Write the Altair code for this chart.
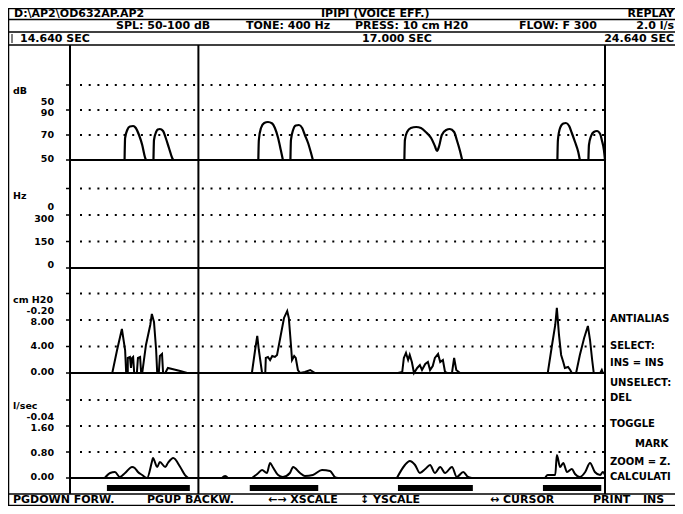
import altair as alt
import pandas as pd

# ---------------- data ----------------
t_start, t_end = 14.64, 24.64
cursor_time = 17.04

# SPL (dB) bursts
spl_times = [
    [15.66, 15.67, 15.71, 15.76, 15.82, 15.87, 15.93, 15.99, 16.04, 16.06],
    [16.20, 16.21, 16.25, 16.28, 16.32, 16.38, 16.43, 16.49, 16.55, 16.57],
    [18.16, 18.17, 18.21, 18.27, 18.34, 18.42, 18.47, 18.53, 18.58, 18.62],
    [18.76, 18.77, 18.81, 18.86, 18.92, 18.98, 19.03, 19.09, 19.14, 19.18],
    [20.89, 20.90, 20.94, 21.01, 21.11, 21.20, 21.29, 21.39, 21.46, 21.50,
     21.54, 21.59, 21.67, 21.74, 21.82, 21.87, 21.93, 21.97],
    [23.75, 23.76, 23.80, 23.86, 23.91, 23.97, 24.02, 24.08, 24.14, 24.17],
    [24.33, 24.34, 24.38, 24.43, 24.49, 24.55, 24.58, 24.62, 24.64],
]
spl_db = [
    [50, 67.6, 74, 76.8, 77.2, 75.6, 70, 62, 52.4, 50],
    [50, 66, 72.4, 74.4, 74.8, 73.2, 67.6, 59.6, 51.6, 50],
    [50, 66, 75.6, 79.6, 80.4, 79.2, 75.6, 67.6, 58, 50],
    [50, 66, 74, 77.6, 78, 75.6, 70, 63.6, 56.4, 50],
    [50, 66, 72.4, 75.6, 76.4, 75.6, 72.4, 67.6, 61.2, 57.2,
     61.2, 70, 74, 74.8, 72.4, 66, 57.2, 50],
    [50, 66, 75.6, 79.2, 79.6, 77.2, 71.6, 64.4, 56.4, 50],
    [50, 62, 69.2, 72.4, 73.2, 70.8, 66, 58, 50],
]

# Pressure (cm H2O)
press_times = [
    [15.29, 15.43, 15.52, 15.61, 15.67, 15.69, 15.72, 15.72, 15.76, 15.78, 15.80,
     15.82, 15.84, 15.89, 15.91, 15.95, 15.97, 15.99, 16.06, 16.14, 16.17, 16.21,
     16.25, 16.27, 16.30, 16.32, 16.36, 16.38, 16.42, 16.47, 16.55, 16.70, 16.83],
    [17.97, 18.04, 18.10, 18.14, 18.17, 18.23, 18.29, 18.30, 18.34, 18.38, 18.42,
     18.47, 18.51, 18.58, 18.64, 18.70, 18.73, 18.77, 18.79, 18.83, 18.86, 18.90,
     18.94, 19.03, 19.13, 19.22],
    [20.77, 20.85, 20.88, 20.92, 20.96, 20.99, 21.03, 21.07, 21.13, 21.18, 21.22,
     21.28, 21.33, 21.37, 21.42, 21.46, 21.52, 21.56, 21.61, 21.65, 21.69, 21.78,
     21.82, 21.86, 21.93],
    [23.52, 23.57, 23.65, 23.71, 23.74, 23.78, 23.82, 23.86, 23.89, 23.95, 23.99,
     24.02, 24.10, 24.17, 24.25, 24.32, 24.36, 24.40, 24.43, 24.55, 24.58, 24.60],
]
press_cm = [
    [0, 0, 3.47, 6.64, 3.47, 0, 0, 2.27, 2.42, 0.76, 2.27, 2.42, 0, 0, 2.27, 2.42,
     0, 0, 4.23, 7.25, 8.91, 7.70, 3.47, 0, 0, 2.57, 2.87, 0, 0, 0.76, 0.60, 0.30, 0],
    [0, 0, 3.47, 5.59, 3.47, 0, 0, 2.27, 2.42, 1.96, 2.57, 2.42, 2.72, 5.74, 8.31,
     9.36, 8.31, 4.23, 1.96, 2.57, 2.27, 0.45, 0, 0.15, 0.45, 0],
    [0, 0.15, 2.27, 3.02, 1.96, 2.72, 1.66, 0, 0.76, 1.21, 0.45, 1.36, 1.66, 0.45,
     1.06, 2.27, 2.87, 1.66, 1.96, 0.15, 0, 0, 2.27, 0.45, 0],
    [0, 0, 4.23, 7.25, 9.82, 5.74, 2.72, 1.66, 0.76, 0.91, 0.45, 0, 0, 2.72, 5.29,
     7.10, 4.98, 1.96, 0, 0, 0.45, 0],
]

# Flow (l/sec)
flow_times = [
    [15.29, 15.39, 15.48, 15.57, 15.67, 15.80, 15.85, 15.91, 15.99, 16.08, 16.17,
     16.19, 16.27, 16.32, 16.42, 16.47, 16.57, 16.70, 16.79, 16.85],
    [17.48, 17.54, 17.59],
    [18.04, 18.14, 18.23, 18.32, 18.38, 18.43, 18.53, 18.62, 18.75, 18.81, 18.94,
     19.03, 19.18, 19.35, 19.50, 19.59, 19.65],
    [20.75, 20.90, 20.99, 21.09, 21.18, 21.28, 21.37, 21.46, 21.56, 21.65, 21.78,
     21.87, 21.99, 22.08, 22.15],
    [23.52, 23.57, 23.71, 23.74, 23.80, 23.86, 23.93, 24.02, 24.08, 24.17, 24.27,
     24.36, 24.45, 24.55, 24.60, 24.64],
]
flow_ls = [
    [0, 0.154, 0.185, 0.031, 0.154, 0.339, 0.308, 0.185, 0.092, 0, 0.493, 0.616,
     0.339, 0.493, 0.339, 0.462, 0.616, 0.339, 0.092, 0],
    [0, 0.062, 0],
    [0, 0.123, 0.246, 0.154, 0.462, 0.339, 0.092, 0.031, 0.154, 0.339, 0.154,
     0.062, 0.092, 0.246, 0.216, 0.031, 0],
    [0, 0.400, 0.524, 0.400, 0.154, 0.277, 0.400, 0.154, 0.339, 0.154, 0.339,
     0.031, 0.185, 0.031, 0],
    [0, 0.092, 0.092, 0.708, 0.339, 0.462, 0.185, 0.277, 0.123, 0.031, 0.185,
     0.462, 0.185, 0.092, 0.185, 0.092],
]

# marked (selected) intervals, seconds
mark_start = [15.33, 18.00, 20.77, 23.48]
mark_end = [16.88, 19.28, 22.17, 24.57]

# grid values and baselines per panel
spl_grid, spl_base = [70, 90, 110], 50
hz_grid, hz_base = [150, 300, 450], 0
press_grid, press_base = [4, 8, 12], 0
flow_grid, flow_base = [0.8, 1.6, 2.4], 0

# left-column labels (units + scale numbers) and the values they sit at
spl_units, spl_units_at = "dB", 105.2
spl_labels, spl_labels_at = ["50", "90", "70", "50"], [96.4, 87.6, 70, 50.8]
hz_units, hz_units_at = "Hz", 407
hz_labels, hz_labels_at = ["0", "300", "150", "0"], [345, 277, 147, 17]
press_units, press_units_at = "cm H20", 11.02
press_labels, press_labels_at = ["-0.20", "8.00", "4.00", "0.00"], [9.36, 7.70, 4.08, 0.15]
flow_units, flow_units_at = "l/sec", 2.215
flow_labels, flow_labels_at = ["-0.04", "1.60", "0.80", "0.00"], [1.877, 1.538, 0.77, 0.03]

header_title = ["D:\\AP2\\OD632AP.AP2", "IPIPI (VOICE EFF.)", "REPLAY"]
header_settings = ["SPL: 50-100 dB", "TONE: 400 Hz", "PRESS: 10 cm H20",
                   "FLOW: F 300", "2.0 l/s"]
header_times = ["14.640 SEC", "17.000 SEC", "24.640 SEC"]
side_menu = ["ANTIALIAS", "SELECT:", "INS = INS", "UNSELECT:", "DEL",
             "TOGGLE", "MARK", "ZOOM = Z.", "CALCULATI"]
bottom_menu = ["PGDOWN FORW.", "PGUP BACKW.", "\u2190\u2192 XSCALE",
               "\u2195 YSCALE", "\u2194 CURSOR", "PRINT", "INS"]

# ---------------- layout / style ----------------
W, H = 667, 498
FONT = "DejaVu Sans"
FS_HEAD = 11
FS_LAB = 9.5
FS_SIDE = 10
INK = "black"
PX0, PX1 = 62, 597          # plot area left / right (chart pixels)
TOP, BOT = 37, 486          # plot frame top / footer line

xs = alt.Scale(domain=[t_start, t_end], range=[PX0, PX1], nice=False, zero=False)
sc_spl = alt.Scale(domain=[50, 90], range=[152, 102], nice=False, zero=False)
sc_hz = alt.Scale(domain=[0, 300], range=[260, 207], nice=False, zero=False)
sc_press = alt.Scale(domain=[0, 8], range=[365, 312], nice=False, zero=False)
sc_flow = alt.Scale(domain=[0, 1.6], range=[470, 418], nice=False, zero=False)

ONE = alt.Data(values=[{}])


def txt(s, x, y, align="left", size=FS_HEAD):
    return alt.Chart(alt.Data(values=[{"s": s}])).mark_text(
        align=align, baseline="middle", font=FONT, fontSize=size,
        fontWeight="bold", color=INK
    ).encode(x=alt.value(x), y=alt.value(y), text="s:N")


def hline(y, x1, x2, w=1.5):
    return alt.Chart(ONE).mark_rule(color=INK, strokeWidth=w).encode(
        x=alt.value(x1), x2=alt.value(x2), y=alt.value(y))


def vline(x, y1, y2, w=1.5):
    return alt.Chart(ONE).mark_rule(color=INK, strokeWidth=w).encode(
        x=alt.value(x), y=alt.value(y1), y2=alt.value(y2))


def series_df(times, vals):
    rows = []
    for i, (ts, vs) in enumerate(zip(times, vals)):
        for t, v in zip(ts, vs):
            rows.append({"t": t, "v": v, "seg": i})
    return pd.DataFrame(rows)


def panel(scale, grid, base, units, units_at, labels, labels_at):
    out = []
    g = pd.DataFrame({"v": grid})
    out.append(alt.Chart(g).mark_rule(color=INK, strokeWidth=2, strokeDash=[2, 6.7]).encode(
        y=alt.Y("v:Q", scale=scale, axis=None), x=alt.value(PX0 + 10), x2=alt.value(PX1)))
    ticks = pd.DataFrame({"v": grid + [base]})
    out.append(alt.Chart(ticks).mark_rule(color=INK, strokeWidth=1.5).encode(
        y=alt.Y("v:Q", scale=scale, axis=None), x=alt.value(PX0 - 4), x2=alt.value(PX0)))
    out.append(alt.Chart(pd.DataFrame({"v": [base]})).mark_rule(color=INK, strokeWidth=2.2).encode(
        y=alt.Y("v:Q", scale=scale, axis=None), x=alt.value(PX0), x2=alt.value(PX1)))
    lab = pd.DataFrame({"s": labels, "v": labels_at})
    out.append(alt.Chart(lab).mark_text(align="right", baseline="middle", font=FONT,
                                        fontSize=FS_LAB, fontWeight="bold", color=INK).encode(
        y=alt.Y("v:Q", scale=scale, axis=None), x=alt.value(46), text="s:N"))
    un = pd.DataFrame({"s": [units], "v": [units_at]})
    out.append(alt.Chart(un).mark_text(align="left", baseline="middle", font=FONT,
                                       fontSize=FS_LAB, fontWeight="bold", color=INK).encode(
        y=alt.Y("v:Q", scale=scale, axis=None), x=alt.value(5), text="s:N"))
    return out


layers = []

# frame
layers += [
    hline(0.5, 0, W), hline(11.5, 0, W), hline(24, 0, W), hline(TOP, 0, W),
    hline(BOT, 0, W), hline(H - 0.5, 0, W),
    vline(0.5, 0, H), vline(PX0, TOP, BOT, 2), vline(PX1, TOP, BOT, 2),
    vline(4, 26, 35, 1),
]

# panels
layers += panel(sc_spl, spl_grid, spl_base, spl_units, spl_units_at, spl_labels, spl_labels_at)
layers += panel(sc_hz, hz_grid, hz_base, hz_units, hz_units_at, hz_labels, hz_labels_at)
layers += panel(sc_press, press_grid, press_base, press_units, press_units_at, press_labels, press_labels_at)
layers += panel(sc_flow, flow_grid, flow_base, flow_units, flow_units_at, flow_labels, flow_labels_at)

# traces
layers.append(alt.Chart(series_df(spl_times, spl_db)).mark_line(
    color=INK, strokeWidth=2.2, interpolate="monotone").encode(
    x=alt.X("t:Q", scale=xs, axis=None), y=alt.Y("v:Q", scale=sc_spl, axis=None),
    detail="seg:N", order="t:Q"))
layers.append(alt.Chart(series_df(press_times, press_cm)).mark_line(
    color=INK, strokeWidth=2).encode(
    x=alt.X("t:Q", scale=xs, axis=None), y=alt.Y("v:Q", scale=sc_press, axis=None),
    detail="seg:N"))
layers.append(alt.Chart(series_df(flow_times, flow_ls)).mark_line(
    color=INK, strokeWidth=2, interpolate="monotone").encode(
    x=alt.X("t:Q", scale=xs, axis=None), y=alt.Y("v:Q", scale=sc_flow, axis=None),
    detail="seg:N", order="t:Q"))

# cursor
layers.append(alt.Chart(pd.DataFrame({"t": [cursor_time]})).mark_rule(
    color=INK, strokeWidth=2).encode(
    x=alt.X("t:Q", scale=xs, axis=None), y=alt.value(TOP), y2=alt.value(BOT)))

# marked intervals
layers.append(alt.Chart(pd.DataFrame({"a": mark_start, "b": mark_end})).mark_rect(
    color=INK).encode(
    x=alt.X("a:Q", scale=xs, axis=None), x2="b:Q", y=alt.value(477), y2=alt.value(483)))

# header texts
layers += [
    txt(header_title[0], 6, 6.2), txt(header_title[1], 313, 6.2),
    txt(header_title[2], 666, 6.2, "right"),
    txt(header_settings[0], 108, 18), txt(header_settings[1], 238, 18),
    txt(header_settings[2], 347, 18), txt(header_settings[3], 511, 18),
    txt(header_settings[4], 666, 18, "right"),
    txt(header_times[0], 12, 30.6), txt(header_times[1], 354, 30.6),
    txt(header_times[2], 666, 30.6, "right"),
]

# side menu
side_y = [311, 338, 355, 375, 390, 416, 436, 454, 469]
side_x = [602, 602, 602, 602, 602, 602, 627, 602, 602]
for s, x, y in zip(side_menu, side_x, side_y):
    layers.append(txt(s, x, y, size=FS_SIDE))

# bottom menu
bm_x = [5, 139, 260, 352, 482, 585, 635]
for s, x in zip(bottom_menu, bm_x):
    layers.append(txt(s, x, 492))

chart = alt.layer(*layers).resolve_scale(y="independent").properties(
    width=W, height=H, padding=0, autosize=alt.AutoSizeParams(type="none"),
    background="white"
).configure_view(stroke=None)

chart.save("out.html", embed_options={"renderer": "svg", "actions": False})
